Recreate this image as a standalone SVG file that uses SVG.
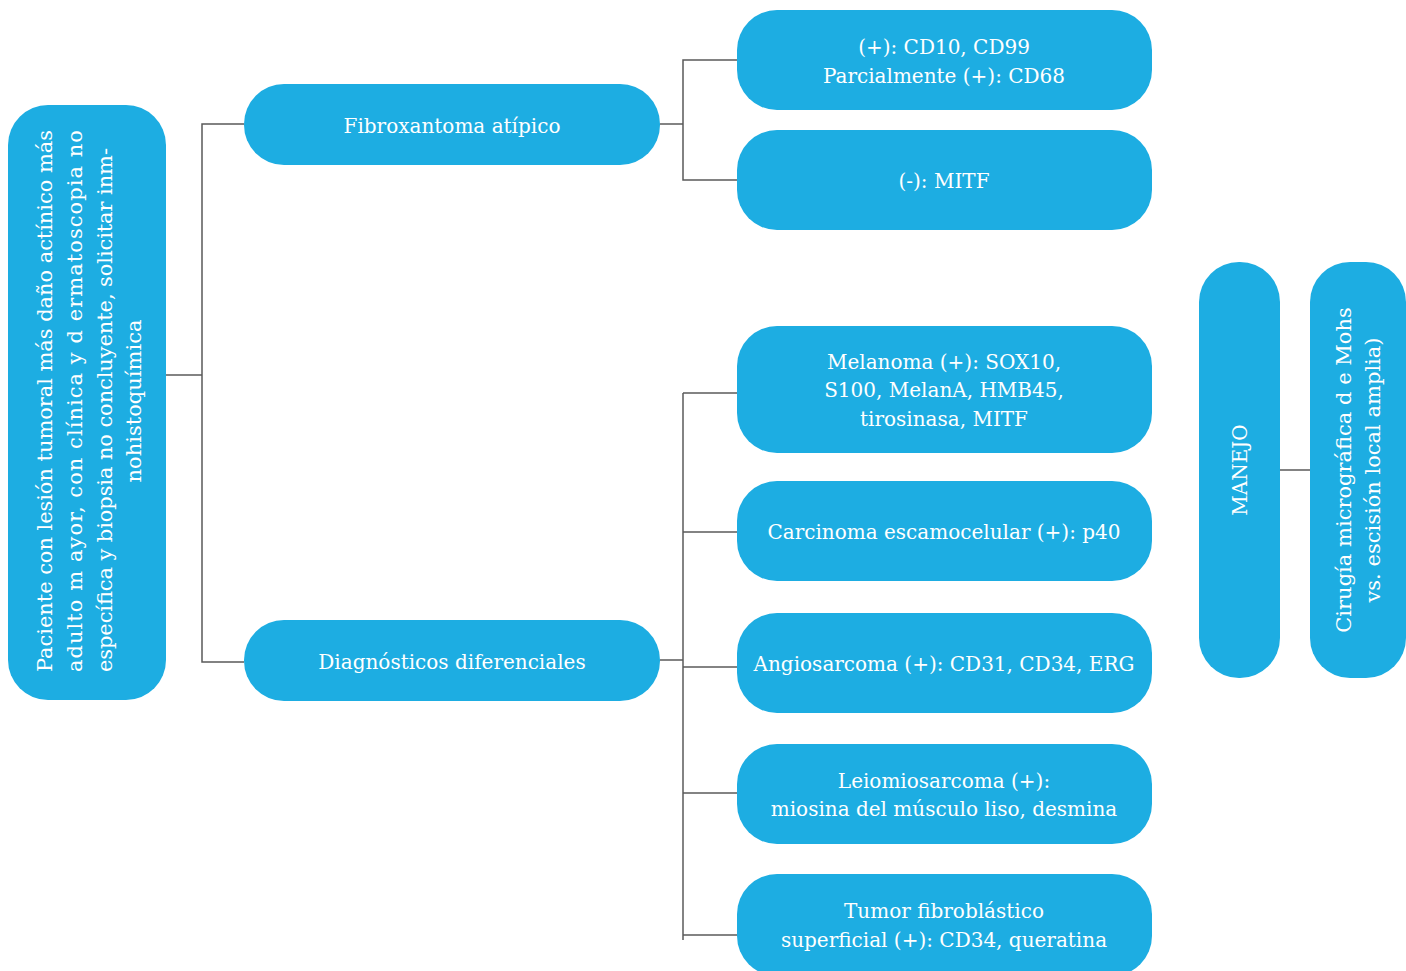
<svg xmlns="http://www.w3.org/2000/svg" width="1406" height="971" viewBox="0 0 1406 971">
<style>
.n{fill:#1DADE2}
.t{fill:#ffffff;font-family:"DejaVu Serif","Liberation Serif",serif;font-size:20px;text-anchor:middle}
.r{font-size:21px}
.c{stroke:#5a5a5a;stroke-width:1.5;fill:none}
</style>
<rect width="1406" height="971" fill="#ffffff"/>
<g id="connectors">
<polyline class="c" points="166,375 202,375"/>
<polyline class="c" points="244,124 202,124 202,662 244,662"/>
<polyline class="c" points="660,124 683,124"/>
<polyline class="c" points="737,60 683,60 683,180 737,180"/>
<polyline class="c" points="660,660 683,660"/>
<polyline class="c" points="683,393 683,940"/>
<polyline class="c" points="683,393 737,393"/>
<polyline class="c" points="683,532 737,532"/>
<polyline class="c" points="683,667 737,667"/>
<polyline class="c" points="683,793 737,793"/>
<polyline class="c" points="683,935 737,935"/>
<polyline class="c" points="1280,470 1310,470"/>
</g>
<g id="paciente">
<rect class="n" x="8" y="105" width="158" height="595" rx="40"/>
<text class="t r" transform="translate(45,401) rotate(-90)" dy="0.35em" textLength="542" lengthAdjust="spacing">Paciente con lesión tumoral más daño actínico más</text>
<text class="t r" transform="translate(75,401) rotate(-90)" dy="0.35em" textLength="542" lengthAdjust="spacing">adulto m ayor,  con  clínica y  d  ermatoscopia  no</text>
<text class="t r" transform="translate(105,410) rotate(-90)" dy="0.35em" textLength="524" lengthAdjust="spacing">específica y biopsia no concluyente, solicitar inm-</text>
<text class="t r" transform="translate(134,401) rotate(-90)" dy="0.35em">nohistoquímica</text>
</g>
<g id="fibroxantoma">
<rect class="n" x="244" y="84" width="416" height="81" rx="40"/>
<text class="t" x="452" y="133">Fibroxantoma atípico</text>
</g>
<g id="diagnosticos">
<rect class="n" x="244" y="620" width="416" height="81" rx="40"/>
<text class="t" x="452" y="669">Diagnósticos diferenciales</text>
</g>
<g id="cd10">
<rect class="n" x="737" y="10" width="415" height="100" rx="40"/>
<text class="t" x="944" y="54">(+): CD10, CD99</text>
<text class="t" x="944" y="83">Parcialmente (+): CD68</text>
</g>
<g id="mitf">
<rect class="n" x="737" y="130" width="415" height="100" rx="40"/>
<text class="t" x="944" y="188">(-): MITF</text>
</g>
<g id="melanoma">
<rect class="n" x="737" y="326" width="415" height="127" rx="40"/>
<text class="t" x="944" y="369">Melanoma (+): SOX10,</text>
<text class="t" x="944" y="397">S100, MelanA, HMB45,</text>
<text class="t" x="944" y="426">tirosinasa, MITF</text>
</g>
<g id="carcinoma">
<rect class="n" x="737" y="481" width="415" height="100" rx="40"/>
<text class="t" x="944" y="539">Carcinoma escamocelular (+): p40</text>
</g>
<g id="angiosarcoma">
<rect class="n" x="737" y="613" width="415" height="100" rx="40"/>
<text class="t" x="944" y="671">Angiosarcoma (+): CD31, CD34, ERG</text>
</g>
<g id="leiomiosarcoma">
<rect class="n" x="737" y="744" width="415" height="100" rx="40"/>
<text class="t" x="944" y="788">Leiomiosarcoma (+):</text>
<text class="t" x="944" y="816">miosina del músculo liso, desmina</text>
</g>
<g id="tumor">
<rect class="n" x="737" y="874" width="415" height="102" rx="40"/>
<text class="t" x="944" y="918">Tumor fibroblástico</text>
<text class="t" x="944" y="947">superficial (+): CD34, queratina</text>
</g>
<g id="manejo">
<rect class="n" x="1199" y="262" width="81" height="416" rx="40"/>
<text class="t" transform="translate(1240,470) rotate(-90)" dy="0.35em">MANEJO</text>
</g>
<g id="cirugia">
<rect class="n" x="1310" y="262" width="96" height="416" rx="40"/>
<text class="t r" transform="translate(1344,470) rotate(-90)" dy="0.35em">Cirugía  micrográfica d e  Mohs</text>
<text class="t r" transform="translate(1373,470) rotate(-90)" dy="0.35em">vs. escisión local amplia)</text>
</g>
</svg>
